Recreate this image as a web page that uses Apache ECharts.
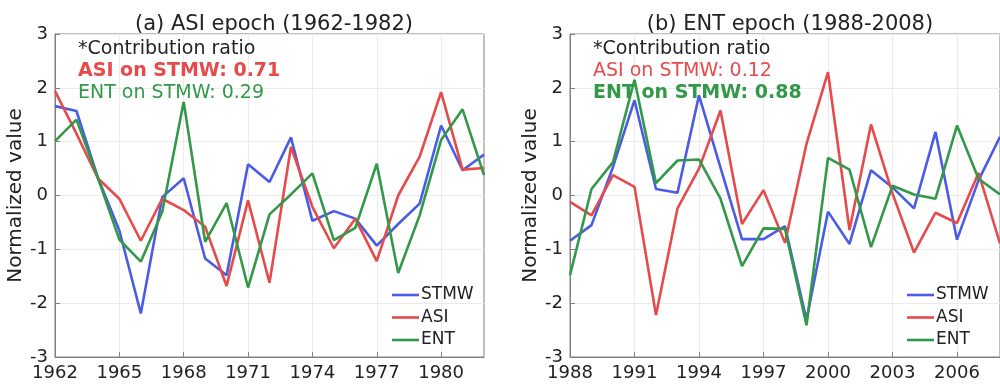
<!DOCTYPE html>
<html>
<head>
<meta charset="utf-8">
<script src="https://cdn.jsdelivr.net/npm/echarts@6/dist/echarts.min.js"></script>
<style>
html,body{margin:0;padding:0;background:#fff;}
#chart{width:1000px;height:384px;}
</style>
</head>
<body>
<div id="chart"></div>
<script>
// ---- Data ----
const yearsA = ['1962','1963','1964','1965','1966','1967','1968','1969','1970','1971','1972','1973','1974','1975','1976','1977','1978','1979','1980','1981','1982'];
const stmwA = [1.66, 1.57, 0.33, -0.65, -2.19, -0.03, 0.32, -1.17, -1.48, 0.58, 0.25, 1.08, -0.47, -0.29, -0.43, -0.93, -0.53, -0.15, 1.30, 0.47, 0.76];
const asiA  = [1.94, 1.15, 0.32, -0.06, -0.84, -0.06, -0.27, -0.58, -1.68, -0.09, -1.62, 0.90, -0.21, -0.98, -0.43, -1.22, 0.00, 0.72, 1.92, 0.48, 0.51];
const entA  = [1.01, 1.41, 0.33, -0.82, -1.23, -0.30, 1.74, -0.86, -0.14, -1.71, -0.35, 0.02, 0.41, -0.83, -0.60, 0.59, -1.44, -0.37, 1.03, 1.60, 0.38];

const yearsB = ['1988','1989','1990','1991','1992','1993','1994','1995','1996','1997','1998','1999','2000','2001','2002','2003','2004','2005','2006','2007','2008'];
const stmwB = [-0.84, -0.55, 0.53, 1.77, 0.12, 0.05, 1.86, 0.52, -0.81, -0.81, -0.57, -2.31, -0.30, -0.90, 0.47, 0.15, -0.24, 1.18, -0.82, 0.28, 1.09];
const asiB  = [-0.12, -0.37, 0.38, 0.16, -2.22, -0.24, 0.50, 1.58, -0.53, 0.10, -0.88, 0.96, 2.29, -0.64, 1.32, 0.04, -1.06, -0.32, -0.51, 0.42, -0.89];
const entB  = [-1.48, 0.12, 0.62, 2.15, 0.23, 0.65, 0.67, -0.06, -1.31, -0.61, -0.62, -2.41, 0.70, 0.48, -0.96, 0.18, 0.02, -0.06, 1.30, 0.31, 0.02];

const titles = ['(a) ASI epoch (1962-1982)', '(b) ENT epoch (1988-2008)'];
const seriesNames = ['STMW', 'ASI', 'ENT'];
const ratioHeader = '*Contribution ratio';
const ratiosA = ['ASI on STMW: 0.71', 'ENT on STMW: 0.29'];
const ratiosB = ['ASI on STMW: 0.12', 'ENT on STMW: 0.88'];
const yName = 'Normalized value';

// ---- Style ----
const FONT = 'DejaVu Sans';
const C_BLUE = '#4a5be6';
const C_RED = '#e64a4a';
const C_GREEN = '#33984a';
const colors = [C_BLUE, C_RED, C_GREEN];
const TXT = '#222';

const chart = echarts.init(document.getElementById('chart'), null, {renderer: 'canvas'});

function xAxisFor(cats, gi) {
  return {
    type: 'category', gridIndex: gi, data: cats, boundaryGap: false,
    axisLine: {show: true, onZero: false, lineStyle: {color: '#808080', width: 1}},
    axisTick: {show: true, inside: true, length: 5, interval: 2, lineStyle: {color: '#808080'}},
    axisLabel: {interval: 2, color: TXT, fontFamily: FONT, fontSize: 18, margin: 7},
    splitLine: {show: true, interval: 2, lineStyle: {color: '#ebebeb', width: 1}}
  };
}
function yAxisFor(gi) {
  return {
    type: 'value', gridIndex: gi, min: -3, max: 3, interval: 1,
    name: yName, nameLocation: 'middle', nameGap: 29,
    nameTextStyle: {fontFamily: FONT, fontSize: 20, color: TXT},
    axisLine: {show: true, onZero: false, lineStyle: {color: '#808080', width: 1}},
    axisTick: {show: true, inside: true, length: 5, lineStyle: {color: '#808080'}},
    axisLabel: {color: TXT, fontFamily: FONT, fontSize: 18, margin: 7},
    splitLine: {show: true, lineStyle: {color: '#ebebeb', width: 1}}
  };
}
function lineSeries(name, data, ci, xi) {
  return {
    type: 'line', name: name, data: data, xAxisIndex: xi, yAxisIndex: xi,
    symbol: 'none', showSymbol: false, animation: false,
    lineStyle: {color: colors[ci], width: 2.6},
    itemStyle: {color: colors[ci]},
    z: 10 + ci
  };
}

function textEl(x, y, txt, color, bold) {
  return {
    type: 'text', left: x, top: y, z: 1, zlevel: 0,
    style: {text: txt, fill: color, font: (bold ? 'bold ' : '') + '19px "' + FONT + '"'}
  };
}

function legendAt(x) {
  return {
    data: seriesNames, orient: 'vertical', left: x, top: 285,
    icon: 'rect', itemWidth: 27, itemHeight: 2.6, itemGap: 2.5,
    textStyle: {fontFamily: FONT, fontSize: 17, color: TXT, lineHeight: 20, padding: [0,0,0,-3]},
    selectedMode: false, padding: 0, z: 20
  };
}

const option = {
  backgroundColor: '#fff',
  animation: false,
  title: [
    {text: titles[0], left: 269, top: 9, textAlign: 'center',
     textStyle: {fontFamily: FONT, fontSize: 21, fontWeight: 'normal', color: TXT}},
    {text: titles[1], left: 785, top: 9, textAlign: 'center',
     textStyle: {fontFamily: FONT, fontSize: 21, fontWeight: 'normal', color: TXT}}
  ],
  grid: [
    {left: 55, right: 516, top: 34, bottom: 27, show: true, borderColor: '#808080', borderWidth: 1, containLabel: false},
    {left: 570, right: 0, top: 34, bottom: 27, show: true, borderColor: '#808080', borderWidth: 1, containLabel: false}
  ],
  xAxis: [xAxisFor(yearsA, 0), xAxisFor(yearsB, 1)],
  yAxis: [yAxisFor(0), yAxisFor(1)],
  legend: [legendAt(392), legendAt(907)],
  graphic: {
    elements: [
      textEl(78, 40, ratioHeader, TXT, false),
      textEl(78, 62, ratiosA[0], C_RED, true),
      textEl(78, 84, ratiosA[1], C_GREEN, false),
      textEl(593, 40, ratioHeader, TXT, false),
      textEl(593, 62, ratiosB[0], C_RED, false),
      textEl(593, 84, ratiosB[1], C_GREEN, true)
    ]
  },
  series: [
    lineSeries(seriesNames[0], stmwA, 0, 0),
    lineSeries(seriesNames[1], asiA, 1, 0),
    lineSeries(seriesNames[2], entA, 2, 0),
    lineSeries(seriesNames[0], stmwB, 0, 1),
    lineSeries(seriesNames[1], asiB, 1, 1),
    lineSeries(seriesNames[2], entB, 2, 1)
  ]
};
chart.setOption(option);
</script>
</body>
</html>
